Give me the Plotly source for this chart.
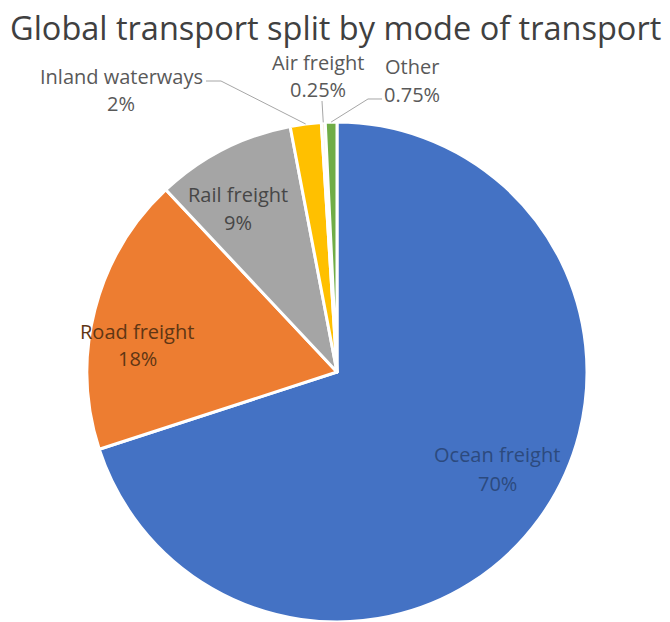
import math
import plotly.graph_objects as go

# Freight share by mode of transport (percent)
modes = ["Ocean freight", "Road freight", "Rail freight",
         "Inland waterways", "Air freight", "Other"]
shares = [70, 18, 9, 2, 0.25, 0.75]
colors = ["#4472C4", "#ED7D31", "#A5A5A5", "#FFC000", "#FBF3DA", "#70AD47"]
title_text = "Global transport split by mode of transport"

W, H = 670, 622
CX, CY, R = 337, 372, 250          # pie centre / radius in pixels (top-left origin)


def px(x):
    return x / W


def py(y):
    return 1 - y / H


fig = go.Figure(go.Pie(
    labels=modes,
    values=shares,
    sort=False,
    direction="clockwise",
    rotation=0,
    marker=dict(colors=colors, line=dict(color="white", width=3)),
    textinfo="none",
    hoverinfo="label+percent",
    domain=dict(x=[px(CX - R), px(CX + R)], y=[py(CY + R), py(CY - R)]),
    showlegend=False,
))

# label placement (pixel centres of the name line and value line)
label_pos = {
    "Ocean freight": (497, 454, 483),
    "Road freight": (137, 331, 358),
    "Rail freight": (238, 195, 222),
    "Inland waterways": (121, 76, 103),
    "Air freight": (318, 63, 89),
    "Other": (412, 66, 94),
}
label_color = {
    "Ocean freight": "#2c4a7e",
    "Road freight": "#5f3614",
    "Rail freight": "#474747",
}
font_family = "Open Sans"
annotations = []
for name, val in zip(modes, shares):
    x, y1, y2 = label_pos[name]
    c = label_color.get(name, "#595959")
    for txt, yy in ((name, y1), (f"{val:g}%", y2)):
        annotations.append(dict(
            x=px(x), y=py(yy), xref="paper", yref="paper",
            text=txt, showarrow=False, xanchor="center", yanchor="middle",
            font=dict(family=font_family, size=20, color=c),
        ))


# edge point at the middle of each slice, measured clockwise from 12 o'clock
def slice_edge(idx):
    total = sum(shares)
    before = sum(shares[:idx])
    ang = 2 * math.pi * (before + shares[idx] / 2) / total
    return CX + R * math.sin(ang), CY - R * math.cos(ang)


leaders = {
    "Inland waterways": [(206, 81), (221, 81)],
    "Air freight": [(322, 101)],
    "Other": [(382, 99), (368, 99)],
}
shapes = []
for name, pts in leaders.items():
    ex, ey = slice_edge(modes.index(name))
    path_pts = pts + [(ex, ey)]
    d = "M " + " L ".join(f"{px(a):.5f},{py(b):.5f}" for a, b in path_pts)
    shapes.append(dict(type="path", path=d, xref="paper", yref="paper",
                       line=dict(color="#A6A6A6", width=1)))

fig.update_layout(
    width=W, height=H,
    margin=dict(l=0, r=0, t=0, b=0),
    paper_bgcolor="white",
    plot_bgcolor="white",
    title=dict(text=title_text, x=px(10), xanchor="left", xref="paper",
               y=py(29), yanchor="middle", yref="paper",
               font=dict(family=font_family, size=32.5, color="#404040")),
    annotations=annotations,
    shapes=shapes,
)

fig.write_html("out.html")
